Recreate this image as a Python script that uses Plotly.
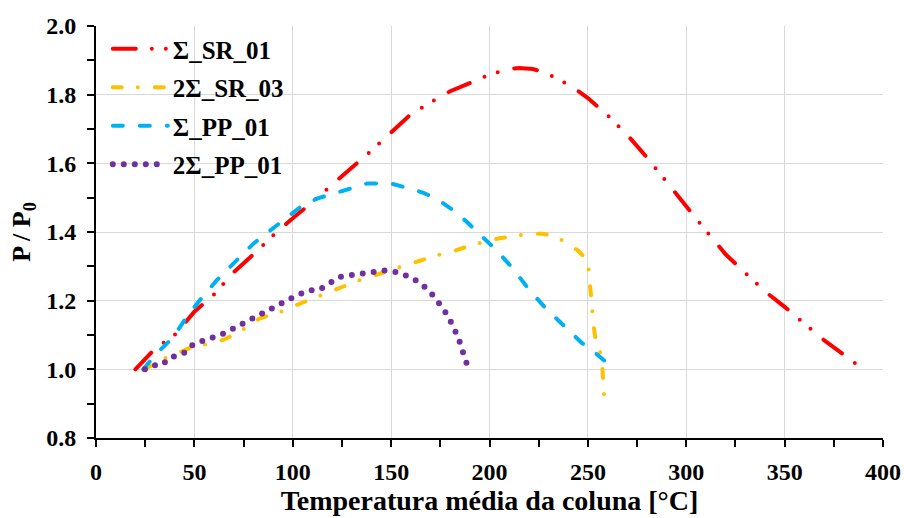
import plotly.graph_objects as go

# ---- data ----
sr01_x = [20, 30, 40, 50, 60, 70, 80, 90, 100, 110, 120, 130, 140, 150, 160, 170, 180, 190, 200, 210, 215, 222, 228, 235, 242, 250, 260, 270, 280, 290, 300, 310, 320, 330, 340, 350, 360, 370, 380, 390]
sr01_y = [1.00, 1.06, 1.10, 1.168, 1.218, 1.283, 1.335, 1.39, 1.44, 1.487, 1.538, 1.587, 1.637, 1.69, 1.743, 1.777, 1.81, 1.834, 1.858, 1.875, 1.878, 1.875, 1.864, 1.845, 1.823, 1.79, 1.74, 1.683, 1.617, 1.546, 1.473, 1.404, 1.335, 1.281, 1.227, 1.182, 1.133, 1.085, 1.043, 1.0]

sr03_x = [24, 30, 36, 42, 48, 55, 60, 66, 76, 83, 94, 100, 106, 113, 120, 126, 132, 140, 145, 152, 160, 165, 172, 180, 185, 192, 199, 205, 213, 220, 227, 233, 240, 245, 249, 250.7, 251.1, 251.6, 252.4, 253, 254, 256.5, 257.3, 257.6, 258.2]
sr03_y = [1.0, 1.015, 1.035, 1.05, 1.063, 1.072, 1.077, 1.089, 1.12, 1.148, 1.168, 1.183, 1.196, 1.212, 1.228, 1.242, 1.256, 1.271, 1.28, 1.296, 1.308, 1.317, 1.33, 1.341, 1.351, 1.364, 1.373, 1.382, 1.388, 1.395, 1.395, 1.388, 1.366, 1.346, 1.322, 1.283, 1.245, 1.203, 1.152, 1.123, 1.084, 1.046, 1.012, 0.968, 0.924]

pp01_x = [24, 30.8, 39.3, 45.2, 52, 61.3, 69.8, 80, 91.8, 100.3, 103.7, 112.2, 123.2, 129.1, 137.6, 149.4, 153.7, 161.3, 166.4, 173.2, 177.4, 183.3, 187.6, 192.6, 197.7, 202.8, 211.3, 219.7, 228.2, 237.5, 246.9, 251.9, 257, 262.1]
pp01_y = [1.0, 1.046, 1.094, 1.145, 1.196, 1.259, 1.308, 1.366, 1.419, 1.455, 1.472, 1.497, 1.516, 1.526, 1.541, 1.542, 1.536, 1.524, 1.514, 1.497, 1.48, 1.456, 1.434, 1.406, 1.38, 1.351, 1.298, 1.235, 1.18, 1.128, 1.077, 1.057, 1.031, 1.007]

pp01b_x = [24.9, 29.1, 33.4, 37.6, 41.5, 45.2, 49.5, 54.9, 60.5, 66.1, 71.2, 76.6, 81.6, 86.7, 91.8, 97.2, 102.8, 108.3, 113.5, 118.4, 123.7, 129.5, 135.4, 140.9, 146.9, 152.8, 158.3, 163.5, 168.1, 172.3, 175.7, 179.1, 181.6, 184.2, 185.9, 188, 189.7]
pp01b_y = [1.0, 1.012, 1.012, 1.034, 1.041, 1.049, 1.073, 1.084, 1.094, 1.107, 1.123, 1.14, 1.154, 1.172, 1.186, 1.201, 1.217, 1.23, 1.232, 1.252, 1.269, 1.274, 1.279, 1.286, 1.288, 1.283, 1.272, 1.256, 1.235, 1.209, 1.181, 1.154, 1.123, 1.092, 1.06, 1.028, 0.995]

names = ["Σ_SR_01", "2Σ_SR_03", "Σ_PP_01", "2Σ_PP_01"]
colors = ["#FF0000", "#FFC000", "#00B0F0", "#7030A0"]

FONT = "'Liberation Serif', 'Times New Roman', serif"

fig = go.Figure()
series = [
    (sr01_x, sr01_y, dict(color=colors[0], width=4, dash="23px,16px,0px,14px,0px,17px")),
    (sr03_x, sr03_y, dict(color=colors[1], width=4, dash="9px,16px,0px,17px")),
    (pp01_x, pp01_y, dict(color=colors[2], width=4, dash="10px,17px")),
    (pp01b_x, pp01b_y, dict(color=colors[3], width=6, dash="0px,11px")),
]
for i, (xs, ys, ln) in enumerate(series):
    fig.add_trace(go.Scatter(x=xs, y=ys, mode="lines", name=names[i], line=ln,
                             legendgroup=f"g{i}"))

axis_common = dict(
    showgrid=True, gridcolor="#d9d9d9", gridwidth=1.3,
    showline=True, linecolor="black", linewidth=2,
    ticks="outside", ticklen=7, tickwidth=2, tickcolor="black",
    zeroline=False, automargin=False,
    tickfont=dict(family=FONT, size=24, color="black", weight="bold"),
)

fig.update_layout(
    width=904, height=518,
    margin=dict(l=96, r=21, t=26, b=80),
    paper_bgcolor="white", plot_bgcolor="white",
    font=dict(family=FONT, color="black"),
    xaxis=dict(range=[0, 400], tick0=0, dtick=50,
               minor=dict(dtick=25, ticks="outside", ticklen=7, tickwidth=2, tickcolor="black", showgrid=False),
               title=dict(text="Temperatura média da coluna [°C]", standoff=7,
                          font=dict(family=FONT, size=28, color="black", weight="bold")),
               ticklabelstandoff=4,
               **axis_common),
    yaxis=dict(range=[0.8, 2.0], tick0=0.8, dtick=0.2, tickformat=".1f",
               minor=dict(dtick=0.1, ticks="outside", ticklen=7, tickwidth=2, tickcolor="black", showgrid=False),
               title=dict(text="P / P<sub>0</sub>", standoff=8,
                          font=dict(family=FONT, size=26, color="black", weight="bold")),
               ticklabelstandoff=6,
               **axis_common),
    legend=dict(x=0.015, y=1.0, xanchor="left", yanchor="top",
                bgcolor="rgba(255,255,255,0)", borderwidth=0,
                tracegroupgap=3, itemwidth=55,
                font=dict(family=FONT, size=25, color="black", weight="bold")),
    showlegend=True,
)

js = """
function roundCaps(){
  document.querySelectorAll('path.js-line, g.legendlines path').forEach(function(p){
    p.style.strokeLinecap = 'round';
  });
}
roundCaps();
setTimeout(roundCaps, 50);
"""

fig.write_html("out.html", post_script=js)
